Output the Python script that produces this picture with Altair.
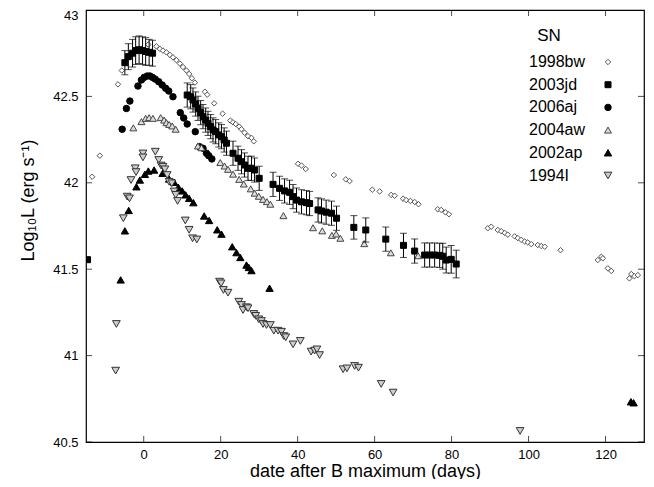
import altair as alt
import pandas as pd

FONT = "Liberation Sans"

sn_names = ["1998bw", "2003jd", "2006aj", "2004aw", "2002ap", "1994I"]

bw98_day = [-13.4, -11.4, -6.7, -5.7, 1.2, 3.3, 4.2, 5.0, 5.9, 6.8, 7.6, 8.5, 9.4, 10.2, 11.1, 11.8, 12.5, 13.3,
            15.9, 16.5, 18.3, 20.5, 22.5, 23.2, 23.9, 24.8, 25.4, 26.2, 27.1, 28.0, 28.6, 40.1, 41.0, 42.1,
            49.4, 52.5, 53.5, 59.4, 61.3, 64.3, 65.2, 67.4, 68.2, 69.3, 70.4, 71.4, 76.4, 77.3, 78.4, 79.3,
            89.4, 90.3, 92.0, 92.9, 93.8, 94.6, 96.4, 97.2, 98.1, 99.0, 99.8, 100.7, 102.4, 103.3, 104.2,
            108.3, 118.0, 118.9, 119.3, 120.6, 121.5, 126.2, 126.7, 127.5, 128.4]
bw98_L = [42.035, 42.157, 42.57, 42.65, 42.80, 42.79, 42.775, 42.765, 42.755, 42.74, 42.726, 42.71, 42.69, 42.67,
          42.65, 42.63, 42.605, 42.58, 42.527, 42.51, 42.46, 42.40, 42.36, 42.35, 42.34, 42.325, 42.31, 42.29,
          42.27, 42.26, 42.24, 42.11, 42.10, 42.08, 42.045, 42.02, 42.01, 41.96, 41.95, 41.93, 41.925, 41.908,
          41.90, 41.895, 41.889, 41.876, 41.847, 41.843, 41.829, 41.818, 41.737, 41.746, 41.727, 41.72, 41.71,
          41.70, 41.69, 41.68, 41.67, 41.66, 41.655, 41.645, 41.64, 41.634, 41.63, 41.61, 41.553, 41.572,
          41.563, 41.505, 41.49, 41.447, 41.472, 41.46, 41.466]

jd03_day = [-14.6, -4.9, -4.0, -2.9, -2.1, -1.2, -0.3, 0.5, 1.4, 2.3, 11.3, 12.2, 12.8, 13.5, 14.1, 14.8, 15.4,
            16.1, 16.7, 17.4, 18.0, 18.7, 19.5, 20.2, 20.9, 21.5, 23.2, 24.5, 25.4, 26.2, 27.1, 28.0, 28.8, 30.0,
            33.6, 35.3, 36.6, 37.9, 38.8, 39.7, 41.0, 42.3, 43.1, 45.3, 46.2, 47.4, 48.8, 50.1, 54.6, 57.7,
            62.9, 67.5, 70.4, 73.0, 74.3, 75.6, 76.9, 77.7, 78.6, 79.9, 81.2]
jd03_L = [41.555, 42.695, 42.73, 42.75, 42.765, 42.77, 42.765, 42.76, 42.755, 42.75, 42.508, 42.498, 42.479,
          42.456, 42.431, 42.406, 42.383, 42.363, 42.344, 42.325, 42.306, 42.296, 42.277, 42.267, 42.248, 42.229,
          42.171, 42.142, 42.122, 42.103, 42.084, 42.084, 42.074, 42.026, 41.991, 41.968, 41.953, 41.945, 41.92,
          41.90, 41.89, 41.885, 41.88, 41.843, 41.837, 41.83, 41.824, 41.795, 41.742, 41.727, 41.674, 41.638,
          41.605, 41.582, 41.582, 41.582, 41.58, 41.575, 41.553, 41.557, 41.53]
jd03_err = [0.0, 0.07, 0.075, 0.08, 0.08, 0.08, 0.08, 0.08, 0.075, 0.075, 0.07, 0.07, 0.07, 0.07, 0.07, 0.07,
            0.07, 0.07, 0.07, 0.07, 0.07, 0.07, 0.07, 0.07, 0.07, 0.07, 0.07, 0.07, 0.07, 0.07, 0.07, 0.07, 0.07,
            0.07, 0.07, 0.07, 0.07, 0.07, 0.07, 0.07, 0.07, 0.07, 0.07, 0.07, 0.07, 0.07, 0.07, 0.07, 0.068,
            0.07, 0.07, 0.07, 0.07, 0.07, 0.07, 0.07, 0.07, 0.075, 0.075, 0.08, 0.08]

aj06_day = [-5.6, -4.5, -3.6, -1.5, -0.6, 0.1, 0.9, 1.6, 2.3, 3.0, 3.9, 4.8, 5.7, 6.5, 7.6, 9.5, 10.4, 11.3,
            13.4, 14.5, 15.4, 16.3, 16.9, 17.7]
aj06_L = [42.31, 42.43, 42.473, 42.56, 42.595, 42.61, 42.618, 42.618, 42.61, 42.6, 42.585, 42.566, 42.547,
          42.531, 42.498, 42.406, 42.375, 42.34, 42.296, 42.209, 42.2, 42.171, 42.157, 42.138]

aw04_day = [-2.7, -0.6, 0.5, 1.4, 2.4, 4.4, 5.3, 5.9, 6.6, 7.4, 8.3, 14.1, 15.0, 19.9, 21.0, 21.9, 23.2, 24.8,
            26.0, 27.8, 28.8, 29.9, 31.0, 32.0, 32.9, 36.3, 44.0, 46.4, 48.9, 50.0, 51.1, 57.3, 64.2, 71.3]
aw04_L = [42.318, 42.354, 42.373, 42.377, 42.373, 42.377, 42.363, 42.348, 42.338, 42.329, 42.31, 42.213, 42.203,
          42.117, 42.097, 42.078, 42.05, 42.02, 41.993, 41.965, 41.94, 41.922, 41.904, 41.891, 41.876, 41.81,
          41.74, 41.722, 41.696, 41.704, 41.679, 41.648, 41.595, 41.578]

ap02_day = [-6.0, -4.9, -3.9, -1.9, -1.0, 0.3, 1.2, 2.7, 4.9, 6.6, 7.9, 9.0, 10.0, 10.9, 11.8, 12.9, 15.7, 17.0,
            19.1, 20.2, 23.0, 24.1, 25.1, 26.7, 27.3, 28.0, 32.7, 126.6, 127.3]
ap02_L = [41.438, 41.722, 41.84, 41.977, 42.016, 42.049, 42.068, 42.074, 42.055, 42.022, 42.003, 41.974, 41.953,
          41.93, 41.91, 41.885, 41.808, 41.782, 41.728, 41.703, 41.63, 41.596, 41.568, 41.524, 41.51, 41.492,
          41.39, 40.733, 40.727]

i94_day = [-7.3, -7.1, -5.3, -4.3, -3.7, -3.3, -2.2, -2.0, -0.2, -0.2, 3.0, 3.9, 4.5, 5.0, 5.5, 6.1, 6.6, 7.3,
           7.9, 8.3, 8.8, 10.8, 11.8, 12.7, 13.8, 19.7, 20.1, 20.7, 21.9, 24.7, 25.4, 25.8, 26.7, 27.1, 28.6,
           29.1, 29.9, 30.6, 31.0, 31.9, 32.9, 33.8, 34.9, 35.8, 36.4, 36.9, 38.8, 40.7, 43.5, 44.4, 45.0, 45.7,
           51.8, 52.8, 54.8, 55.8, 61.7, 64.8, 97.8]
i94_L = [40.913, 41.183, 41.795, 41.92, 41.91, 42.016, 42.084, 42.062, 42.17, 42.147, 42.18, 42.132, 42.1, 42.093,
         42.078, 42.045, 42.006, 41.997, 41.95, 41.93, 41.895, 41.782, 41.728, 41.679, 41.672, 41.428, 41.418,
         41.38, 41.364, 41.312, 41.293, 41.264, 41.28, 41.274, 41.241, 41.23, 41.21, 41.2, 41.183, 41.177,
         41.177, 41.144, 41.144, 41.138, 41.113, 41.106, 41.065, 41.085, 41.023, 41.029, 41.036, 41.003, 40.921,
         40.926, 40.94, 40.93, 40.836, 40.786, 40.564]

x_ticks = [0, 20, 40, 60, 80, 100, 120]
y_ticks = [40.5, 41, 41.5, 42, 42.5, 43]
x_domain = [-15, 130]
y_domain = [40.5, 43]

# ---------- tables ----------
series = [("1998bw", bw98_day, bw98_L), ("2003jd", jd03_day, jd03_L), ("2006aj", aj06_day, aj06_L),
          ("2004aw", aw04_day, aw04_L), ("2002ap", ap02_day, ap02_L), ("1994I", i94_day, i94_L)]
frames = []
for name, d, l in series:
    f = pd.DataFrame({"day": d, "L": l})
    f["sn"] = name
    frames.append(f)
df = pd.concat(frames, ignore_index=True)

err_df = pd.DataFrame({"day": jd03_day, "L": jd03_L, "err": jd03_err})
err_df = err_df[err_df["err"] > 0].copy()
err_df["lo"] = err_df["L"] - err_df["err"]
err_df["hi"] = err_df["L"] + err_df["err"]

leg_df = pd.DataFrame({"sn": sn_names, "row": list(range(len(sn_names)))})

xscale = alt.Scale(domain=x_domain, nice=False, zero=False)
yscale = alt.Scale(domain=y_domain, nice=False, zero=False)

shapes = ["diamond", "square", "circle", "triangle-up", "triangle-up", "triangle-down"]
fills = ["#ffffff", "#000000", "#000000", "#dcdcdc", "#000000", "#cccccc"]
strokes = ["#555555", "#000000", "#000000", "#444444", "#000000", "#333333"]
sizes = [30, 60, 36, 33, 22, 33]
legend_sizes = [22, 24, 24, 24, 14, 24]

shape_scale = alt.Scale(domain=sn_names, range=shapes)
fill_scale = alt.Scale(domain=sn_names, range=fills)
stroke_scale = alt.Scale(domain=sn_names, range=strokes)

X_TITLE = "date after B maximum (days)"
Y_TITLE = "Log₁₀L (erg s⁻¹)"

x_axis = alt.Axis(values=x_ticks, format="d", ticks=False, domain=False, grid=False,
                  labelFontSize=13, labelFont=FONT, labelColor="black", labelPadding=6,
                  title=X_TITLE, titleFontSize=18, titleFont=FONT,
                  titleFontWeight="normal", titleColor="black", titleY=34, titleBaseline="alphabetic")
y_axis = alt.Axis(values=y_ticks, format="~r", ticks=False, domain=False, grid=False,
                  labelFontSize=13, labelFont=FONT, labelColor="black", labelPadding=8,
                  labelOffset={"condition": {"test": "datum.value >= 42.9", "value": 5}, "value": 0},
                  title=Y_TITLE, titleFontSize=18, titleFont=FONT,
                  titleFontWeight="normal", titleColor="black", titleAngle=270,
                  titleX=-53, titleY=190, titleBaseline="alphabetic", titleAlign="center")


def X(field):
    return alt.X(field, scale=xscale, axis=x_axis, title=X_TITLE)


def Y(field):
    return alt.Y(field, scale=yscale, axis=y_axis, title=Y_TITLE)


points = alt.Chart(df).mark_point(filled=False, opacity=1, strokeWidth=1, clip=True).encode(
    x=X("day:Q"),
    y=Y("L:Q"),
    shape=alt.Shape("sn:N", scale=shape_scale, legend=None),
    fill=alt.Fill("sn:N", scale=fill_scale, legend=None),
    stroke=alt.Stroke("sn:N", scale=stroke_scale, legend=None),
    size=alt.Size("sn:N", scale=alt.Scale(domain=sn_names, range=sizes), legend=None),
)

err_rule = alt.Chart(err_df).mark_rule(color="black", strokeWidth=1, clip=True).encode(
    x=X("day:Q"), y=Y("lo:Q"), y2="hi:Q")
err_lo = alt.Chart(err_df).mark_tick(orient="horizontal", size=7, thickness=1, color="black", clip=True).encode(
    x=X("day:Q"), y=Y("lo:Q"))
err_hi = alt.Chart(err_df).mark_tick(orient="horizontal", size=7, thickness=1, color="black", clip=True).encode(
    x=X("day:Q"), y=Y("hi:Q"))

# inward ticks on all four sides (half of each tick is clipped away by the frame)
xt_bottom = pd.DataFrame({"t": x_ticks, "v": [y_domain[0]] * len(x_ticks)})
xt_top = pd.DataFrame({"t": x_ticks, "v": [y_domain[1]] * len(x_ticks)})
yt_left = pd.DataFrame({"t": y_ticks, "v": [x_domain[0]] * len(y_ticks)})
yt_right = pd.DataFrame({"t": y_ticks, "v": [x_domain[1]] * len(y_ticks)})


def vticks(d):
    return alt.Chart(d).mark_tick(orient="vertical", size=12, thickness=1, color="black", clip=True).encode(
        x=X("t:Q"), y=Y("v:Q"))


def hticks(d):
    return alt.Chart(d).mark_tick(orient="horizontal", size=12, thickness=1, color="black", clip=True).encode(
        x=X("v:Q"), y=Y("t:Q"))


# ---------- legend (inside the frame, labels left of symbols, like the original) ----------
LEG_ROW0, LEG_STEP = 52, 22.7
leg_sym = alt.Chart(leg_df).transform_calculate(
    py=f"{LEG_ROW0} + {LEG_STEP} * datum.row").mark_point(filled=False, opacity=1, strokeWidth=1).encode(
    x=alt.value(522),
    y=alt.Y("py:Q", scale=None),
    shape=alt.Shape("sn:N", scale=shape_scale, legend=None),
    fill=alt.Fill("sn:N", scale=fill_scale, legend=None),
    stroke=alt.Stroke("sn:N", scale=stroke_scale, legend=None),
    size=alt.Size("sn:N", scale=alt.Scale(domain=sn_names, range=legend_sizes), legend=None),
)
leg_txt = alt.Chart(leg_df).transform_calculate(
    py=f"{LEG_ROW0} + {LEG_STEP} * datum.row").mark_text(
    font=FONT, fontSize=16, align="left", baseline="middle", color="black").encode(
    x=alt.value(443),
    y=alt.Y("py:Q", scale=None),
    text="sn:N",
)
sn_title = alt.Chart(pd.DataFrame({"t": ["SN"]})).mark_text(
    font=FONT, fontSize=17, align="center", baseline="middle", color="black").encode(
    x=alt.value(463), y=alt.value(26), text="t:N")

chart = alt.layer(
    points, vticks(xt_bottom), vticks(xt_top), hticks(yt_left), hticks(yt_right),
    err_rule, err_lo, err_hi, leg_sym, leg_txt, sn_title,
).properties(
    width=558, height=432,
    autosize=alt.AutoSizeParams(type="none"),
    padding={"left": 78, "top": 2, "right": 1, "bottom": 37},
    background="white",
).configure_view(stroke="black", strokeWidth=1.2)

chart.save("out.html", embed_options={"renderer": "svg", "actions": False})
